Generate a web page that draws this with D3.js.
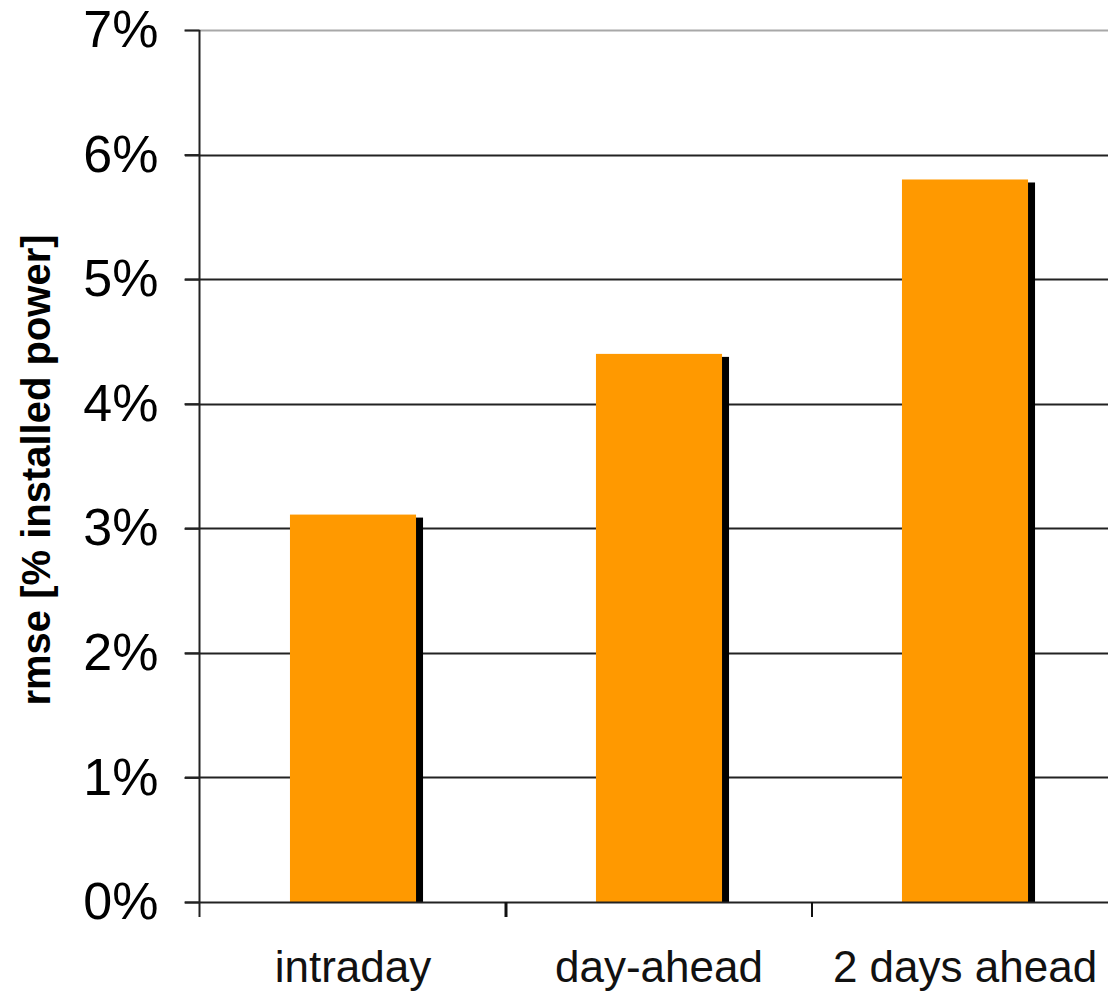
<!DOCTYPE html>
<html>
<head>
<meta charset="utf-8">
<script src="https://cdn.jsdelivr.net/npm/d3@7"></script>
<style>
  html, body { margin: 0; padding: 0; background: #fff; }
  svg { display: block; font-family: "Liberation Sans", Arial, sans-serif; }
</style>
</head>
<body>
<script>
// chart data
const categories = ['intraday', 'day-ahead', '2 days ahead'];
const rmseValues = [0.0311, 0.0440, 0.0580];
const yTickValues = [0, 0.01, 0.02, 0.03, 0.04, 0.05, 0.06, 0.07];
const yTickLabels = ['0%', '1%', '2%', '3%', '4%', '5%', '6%', '7%'];
const yTitle = 'rmse [% installed power]';

const width = 1108, height = 993;
const plotLeft = 200, plotTop = 30, plotBottom = 902, plotRight = 1118;

const svg = d3.select('body').append('svg')
  .attr('width', width)
  .attr('height', height);

// scales
const y = d3.scaleLinear().domain([0, 0.07]).range([plotBottom, plotTop]);
const x = d3.scaleBand()
  .domain(categories)
  .range([plotLeft, plotRight])
  .paddingInner(0.588)
  .paddingOuter(0.294);
const step = x.step();

// gridlines (top one grey, like the original)
svg.append('g').selectAll('line')
  .data(yTickValues.filter(v => v > 0))
  .enter().append('line')
  .attr('x1', plotLeft - 15)
  .attr('x2', width)
  .attr('y1', d => Math.round(y(d)) + 0.5)
  .attr('y2', d => Math.round(y(d)) + 0.5)
  .attr('stroke', (d, i, a) => i === a.length - 1 ? '#a8a8a8' : '#222')
  .attr('stroke-width', 2);

// bar shadows then bars
const dx = 7, dy = 3;
svg.append('g').selectAll('rect')
  .data(rmseValues)
  .enter().append('rect')
  .attr('x', (d, i) => x(categories[i]) + dx)
  .attr('y', d => y(d) + dy)
  .attr('width', x.bandwidth())
  .attr('height', d => plotBottom - y(d) - dy)
  .attr('fill', '#000');

svg.append('g').selectAll('rect')
  .data(rmseValues)
  .enter().append('rect')
  .attr('x', (d, i) => x(categories[i]))
  .attr('y', d => y(d))
  .attr('width', x.bandwidth())
  .attr('height', d => plotBottom - y(d))
  .attr('fill', '#ff9900');

// y axis
const yAxis = d3.axisLeft(y)
  .tickValues(yTickValues)
  .tickFormat((d, i) => yTickLabels[i])
  .tickSize(15)
  .tickPadding(26);

const gy = svg.append('g')
  .attr('transform', `translate(${plotLeft - 0.5},0)`)
  .call(yAxis);
gy.select('.domain').attr('stroke', '#222').attr('stroke-width', 2)
  .attr('d', `M0,${plotTop}V${plotBottom + 15}`);
gy.selectAll('.tick line').attr('stroke', '#222').attr('stroke-width', 2);
gy.selectAll('.tick text')
  .attr('fill', '#000')
  .style('font-size', '52px');

// baseline
svg.append('line')
  .attr('x1', plotLeft - 15).attr('x2', width)
  .attr('y1', plotBottom + 0.5).attr('y2', plotBottom + 0.5)
  .attr('stroke', '#222').attr('stroke-width', 2);

// category boundary ticks
const boundaries = categories.map(c => x(c) - x.paddingInner() * step / 2);
svg.append('g').selectAll('line')
  .data(boundaries.slice(1))
  .enter().append('line')
  .attr('x1', d => d).attr('x2', d => d)
  .attr('y1', plotBottom).attr('y2', plotBottom + 15)
  .attr('stroke', '#111')
  .attr('stroke-width', (d, i) => i === 0 ? 3 : 2);

// x labels
svg.append('g').selectAll('text')
  .data(categories)
  .enter().append('text')
  .attr('x', d => x(d) + x.bandwidth() / 2)
  .attr('y', 982)
  .attr('text-anchor', 'middle')
  .style('font-size', '44px')
  .attr('fill', '#111')
  .text(d => d);

// y title
svg.append('text')
  .attr('transform', 'translate(50,470) rotate(-90)')
  .attr('text-anchor', 'middle')
  .style('font-size', '40px')
  .style('font-weight', 'bold')
  .attr('fill', '#000')
  .text(yTitle);
</script>
</body>
</html>
